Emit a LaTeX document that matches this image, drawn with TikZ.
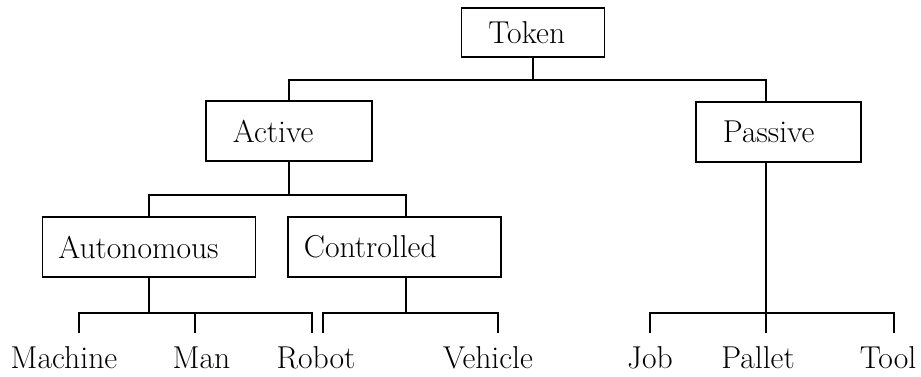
\documentclass[tikz,border=0pt]{standalone}
\usepackage{tikz}

\begin{document}
\begin{tikzpicture}[font=\fontsize{18}{21}\selectfont, line width=1.1pt]
    \tikzstyle{box}=[draw, anchor=west, align=left, minimum height=1.2cm, inner ysep=0pt]
    \tikzstyle{leaf}=[anchor=base, inner ysep=0.26cm]
    \useasboundingbox (0,0) rectangle (18.42,7.54);
    \node[box, minimum height=0.98cm, inner xsep=0.54cm, text width=1.78cm] (token) at (9.21,6.89) {Token};
    \node[box, inner xsep=0.54cm, text width=2.24cm] (active) at (4.10,4.92) {Active};
    \node[box, inner xsep=0.54cm, text width=2.22cm] (passive) at (13.90,4.90) {Passive};
    \node[box, inner xsep=0.32cm, text width=3.62cm] (auto) at (0.83,2.60) {Autonomous};
    \node[box, inner xsep=0.32cm, text width=3.62cm] (ctrl) at (5.74,2.60) {Controlled};
    \node[leaf] (machine) at (1.28,0.16) {Machine};
    \node[leaf] (man) at (4.03,0.16) {Man};
    \node[leaf] (robot) at (6.32,0.16) {Robot};
    \node[leaf] (vehicle) at (9.76,0.16) {Vehicle};
    \node[leaf] (job) at (13.00,0.16) {Job};
    \node[leaf] (pallet) at (15.16,0.16) {Pallet};
    \node[leaf] (tool) at (17.76,0.16) {Tool};
    \coordinate (bus1) at (0,5.94);
    \coordinate (bus2) at (0,3.64);
    \coordinate (tma) at (1.58,1.28);
    \coordinate (tmn) at (3.90,1.28);
    \coordinate (trb) at (6.24,1.28);
    \coordinate (trc) at (6.46,1.28);
    \coordinate (tve) at (9.96,1.28);
    \coordinate (tjo) at (13.00,1.28);
    \coordinate (tpa) at (15.32,1.28);
    \coordinate (tto) at (17.88,1.28);
    \draw (token.south) -- (token.south |- bus1);
    \draw (active.north) |- (token.south |- bus1) -| (tpa |- passive.north);
    \draw (active.south) -- (active.south |- bus2);
    \draw (auto.north) |- (active.south |- bus2) -| ([xshift=2.3mm]ctrl.north);
    \draw (auto.south) -- (auto.south |- tma);
    \draw (tma |- machine.north) -- (tma) -- (trb) -- (trb |- robot.north);
    \draw (tmn) -- (tmn |- man.north);
    \draw ([xshift=2.3mm]ctrl.south) -- ([xshift=2.3mm]ctrl.south |- trc);
    \draw (trc |- robot.north) -- (trc) -- (tve) -- (tve |- vehicle.north);
    \draw (tpa |- passive.south) -- (tpa);
    \draw (tjo |- job.north) -- (tjo) -- (tto) -- (tto |- tool.north);
    \draw (tpa) -- (tpa |- pallet.north);
\end{tikzpicture}
\end{document}
